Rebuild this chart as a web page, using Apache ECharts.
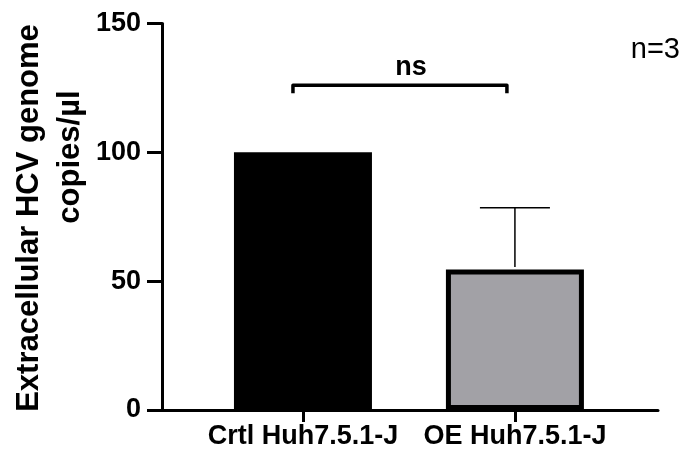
<!DOCTYPE html>
<html>
<head>
<meta charset="utf-8">
<script src="https://cdn.jsdelivr.net/npm/echarts@6/dist/echarts.min.js"></script>
<style>
  html, body { margin: 0; padding: 0; background: #fff; }
  #chart { width: 683px; height: 459px; }
</style>
</head>
<body>
<div id="chart"></div>
<script>
// Groups and measured values (copies/µl, normalised to control)
const categories = ['Crtl Huh7.5.1-J', 'OE Huh7.5.1-J'];
const means = [100, 54.5];
const sdUpper = [0, 24];
const yTicks = [0, 50, 100, 150];
const sigPair = [0, 1];
const sigLabel = 'ns';
const sigLevel = 126;
const sampleNote = 'n=3';
const yTitleLines = ['Extracellular HCV genome', 'copies/µl'];

const FONT = 'Liberation Sans, Arial, sans-serif';
const positions = categories.map((_, i) => i + 1);

const chart = echarts.init(document.getElementById('chart'), null, { renderer: 'canvas' });

const barData = means.map((v, i) => ({
  value: [positions[i], v],
  itemStyle: i === 0
    ? { color: '#000000', borderWidth: 0 }
    : { color: '#a2a1a6', borderColor: '#000000', borderWidth: 5 }
}));

const errData = means.map((v, i) => [positions[i], v, v + sdUpper[i]]);

const bracketData = [[positions[sigPair[0]], positions[sigPair[1]], sigLevel]];

chart.setOption({
  animation: false,
  backgroundColor: '#ffffff',
  grid: { left: 162, right: 25, top: 23.5, bottom: 49 },
  xAxis: {
    type: 'value',
    min: 0.335,
    max: 2.675,
    splitLine: { show: false },
    axisLine: { show: true, onZero: false, lineStyle: { color: '#000', width: 3 } },
    axisTick: { show: true, customValues: positions, length: 12, lineStyle: { color: '#000', width: 3 } },
    axisLabel: {
      customValues: positions,
      formatter: v => categories[Math.round(v) - 1],
      margin: 13,
      color: '#000',
      fontFamily: FONT,
      fontWeight: 'bold',
      fontSize: 27
    }
  },
  yAxis: {
    type: 'value',
    min: yTicks[0],
    max: yTicks[yTicks.length - 1],
    interval: 50,
    splitLine: { show: false },
    axisLine: { show: true, lineStyle: { color: '#000', width: 3 } },
    axisTick: { show: true, length: 15, lineStyle: { color: '#000', width: 3 } },
    axisLabel: {
      margin: 21,
      color: '#000',
      fontFamily: FONT,
      fontWeight: 'bold',
      fontSize: 27
    }
  },
  series: [
    {
      type: 'bar',
      barWidth: 138,
      data: barData,
      z: 2
    },
    {
      // upper SD whisker with cap
      type: 'custom',
      z: 3,
      encode: { x: 0, y: [1, 2] },
      data: errData,
      renderItem: function (params, api) {
        const x = api.value(0), lo = api.value(1), hi = api.value(2);
        if (hi <= lo) return null;
        const p0 = api.coord([x, lo]);
        const p1 = api.coord([x, hi]);
        const hw = 35;
        const st = { stroke: '#000', lineWidth: 1.5 };
        return {
          type: 'group',
          children: [
            { type: 'line', shape: { x1: p0[0], y1: p0[1] - 2.5, x2: p1[0], y2: p1[1] }, style: st },
            { type: 'line', shape: { x1: p1[0] - hw, y1: p1[1], x2: p1[0] + hw, y2: p1[1] }, style: st }
          ]
        };
      }
    },
    {
      // significance bracket
      type: 'custom',
      z: 3,
      encode: { x: [0, 1], y: 2 },
      data: bracketData,
      renderItem: function (params, api) {
        const a = api.coord([api.value(0), api.value(2)]);
        const b = api.coord([api.value(1), api.value(2)]);
        const x1 = a[0] - 10, x2 = b[0] - 8, y = a[1], drop = 8;
        return {
          type: 'group',
          children: [
            {
              type: 'polyline',
              shape: { points: [[x1, y + drop], [x1, y], [x2, y], [x2, y + drop]] },
              style: { stroke: '#000', lineWidth: 3.5, fill: null, lineJoin: 'round' }
            },
            {
              type: 'text',
              x: (x1 + x2) / 2 + 11,
              y: y - 18,
              style: {
                text: sigLabel,
                fill: '#000',
                font: 'bold 27px ' + FONT,
                align: 'center',
                verticalAlign: 'middle'
              }
            }
          ]
        };
      }
    }
  ],
  graphic: [
    {
      type: 'text',
      x: 29, y: 218,
      rotation: Math.PI / 2,
      style: {
        text: yTitleLines[0],
        fill: '#000',
        font: 'bold 31px ' + FONT,
        align: 'center',
        verticalAlign: 'middle'
      }
    },
    {
      type: 'text',
      x: 70, y: 157,
      rotation: Math.PI / 2,
      style: {
        text: yTitleLines[1],
        fill: '#000',
        font: 'bold 31px ' + FONT,
        align: 'center',
        verticalAlign: 'middle'
      }
    },
    {
      type: 'text',
      right: 3, top: 35,
      style: {
        text: sampleNote,
        fill: '#000',
        font: '29px ' + FONT
      }
    }
  ]
});
</script>
</body>
</html>
